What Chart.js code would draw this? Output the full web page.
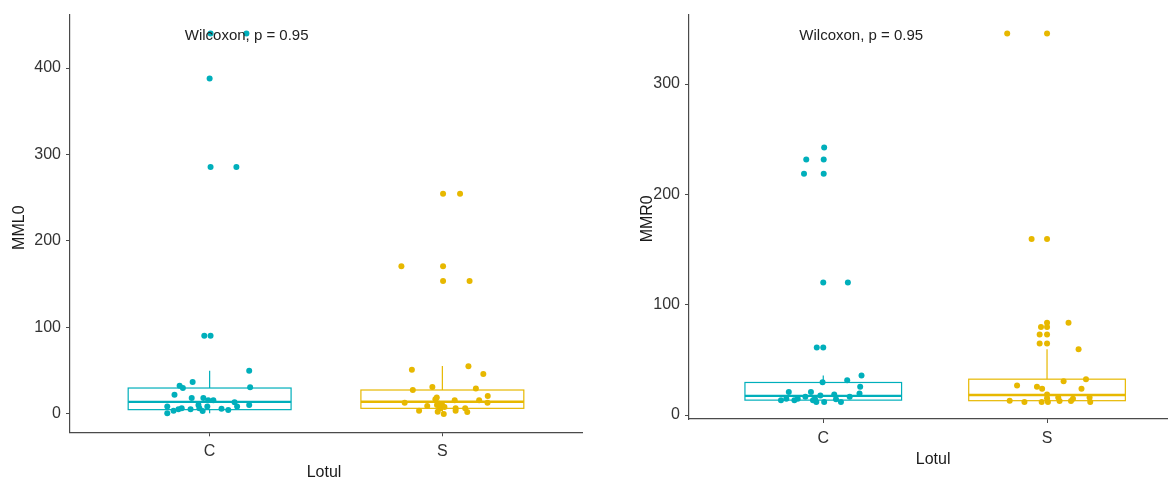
<!DOCTYPE html>
<html><head><meta charset="utf-8">
<script src="https://cdn.jsdelivr.net/npm/chart.js@4/dist/chart.umd.min.js"></script>
<style>
html,body{margin:0;padding:0;background:#fff;overflow:hidden;width:1168px;height:479px;}
.p{position:absolute;top:0;width:600px;height:479px;}
</style></head><body>
<div class="p" style="left:0"><canvas id="c1" width="600" height="479"></canvas></div>
<div class="p" style="left:600px"><canvas id="c2" width="600" height="479"></canvas></div>
<script>
// ---------- data ----------
const categories = ['C', 'S'];
const xTitle = 'Lotul';
const annotationText = 'Wilcoxon, p = 0.95';
const groupColors = ['#00AFBB', '#E7B800'];

// MML0 panel
const mml0Title = 'MML0';
const mml0Ticks = [0, 100, 200, 300, 400];
const mml0C = [440, 440, 388, 285.5, 285.5, 90.5, 90.5, 50, 31, 10.4, 37, 32.7, 30, 22.3, 18.5, 18.5, 16, 16, 13.5, 8.5, 10.4, 6.5, 8.5, 3.5, 5.4, 6.5, 5.4, 3.8, 8.5, 0.8, 6, 4.6];
const mml0CJitter = [0.004, 0.158, 0, 0.004, 0.115, -0.023, 0.004, 0.170, 0.174, 0.170, -0.073, -0.129, -0.115, -0.151, -0.077, -0.027, -0.006, 0.016, 0.107, 0.118, -0.048, -0.044, -0.010, -0.030, -0.082, -0.120, -0.134, -0.155, -0.182, -0.182, 0.051, 0.080];
const mml0S = [254.7, 254.7, 170.7, 170.7, 153.8, 153.8, 51.2, 55.1, 46.2, 27.7, 31.2, 29.3, 20.8, 13.1, 17, 18.9, 15.8, 15.8, 13.1, 9.2, 10.4, 10.4, 6.5, 3.8, 2.7, 0, 6.5, 3.8, 6.5, 2.3, 8, 12];
const mml0SJitter = [0.003, 0.076, -0.176, 0.003, 0.003, 0.117, -0.131, 0.112, 0.176, -0.127, -0.043, 0.144, 0.195, -0.162, -0.030, -0.024, 0.053, 0.158, 0.194, -0.065, -0.023, -0.001, -0.009, -0.100, -0.020, 0.006, 0.057, 0.057, 0.098, 0.107, 0.009, -0.017];
// box stats: [lower whisker, Q1, median, Q3, upper whisker]
const mml0BoxC = [0.8, 5, 14, 30, 50];
const mml0BoxS = [0, 6.5, 14.2, 27.7, 55.5];

// MMR0 panel
const mmr0Title = 'MMR0';
const mmr0Ticks = [0, 100, 200, 300];
const mmr0C = [242.4, 231.6, 231.6, 218.6, 218.6, 120, 120, 61.2, 61.2, 35.9, 31.6, 29.8, 25.6, 19.6, 16.5, 18.7, 20.8, 20.8, 16.5, 17.8, 14.7, 11.7, 11.7, 11.7, 14.2, 13.5, 14.7, 13.5, 14.7, 13.5];
const mmr0CJitter = [0.004, -0.076, 0.002, -0.086, 0.002, 0, 0.110, -0.029, 0, 0.171, 0.107, -0.003, 0.165, 0.162, 0.118, 0.049, -0.055, -0.154, -0.080, -0.013, -0.037, 0.004, -0.031, 0.079, 0.057, -0.129, -0.165, -0.189, -0.114, -0.046];
const mmr0S = [345.7, 345.7, 159.6, 159.6, 83.7, 83.7, 79.8, 79.8, 72.9, 72.9, 64.8, 64.8, 59.6, 26.8, 25.6, 23.8, 30.7, 32.5, 23.8, 12.9, 11.7, 11.7, 18.7, 15.1, 11.7, 15.9, 12.6, 12.6, 14.7, 15.9, 11.7];
const mmr0SJitter = [-0.178, 0, -0.069, 0, 0, 0.096, -0.027, 0, -0.033, 0, -0.033, 0, 0.141, -0.134, -0.045, -0.022, 0.074, 0.174, 0.154, -0.167, -0.101, -0.024, 0, 0, 0.004, 0.050, 0.056, 0.107, 0.116, 0.190, 0.193];
const mmr0BoxC = [11.7, 13.5, 17.4, 29.5, 35.9];
const mmr0BoxS = [11.7, 13, 18.1, 32.5, 59.6];

// ---------- drawing ----------
const FONT = '"Liberation Sans", Arial, sans-serif';
const AXIS_COLOR = '#4a4a4a';
const TICK_COLOR = '#333333';

function makePanel(canvasId, cfg) {
  const datasets = cfg.groups.map((g, gi) => ({
    type: 'scatter',
    data: g.values.map((v, k) => ({ x: gi + 1 + g.jitter[k], y: v })),
    backgroundColor: groupColors[gi],
    borderWidth: 0,
    pointRadius: 3,
    pointHoverRadius: 3
  }));

  const boxPlugin = {
    id: 'boxes',
    beforeDatasetsDraw(chart) {
      const ctx = chart.ctx, xs = chart.scales.x, ys = chart.scales.y;
      cfg.groups.forEach((g, gi) => {
        const [lo, q1, med, q3, hi] = g.box;
        const c = gi + 1;
        const x0 = xs.getPixelForValue(c - 0.35), x1 = xs.getPixelForValue(c + 0.35);
        const xc = xs.getPixelForValue(c);
        ctx.save();
        ctx.strokeStyle = groupColors[gi];
        ctx.lineWidth = 1.2;
        ctx.beginPath();
        ctx.moveTo(xc, ys.getPixelForValue(q3)); ctx.lineTo(xc, ys.getPixelForValue(hi));
        ctx.moveTo(xc, ys.getPixelForValue(q1)); ctx.lineTo(xc, ys.getPixelForValue(lo));
        ctx.stroke();
        const yq3 = ys.getPixelForValue(q3), yq1 = ys.getPixelForValue(q1);
        ctx.strokeRect(x0, yq3, x1 - x0, yq1 - yq3);
        ctx.lineWidth = 2.4;
        ctx.beginPath();
        const ym = ys.getPixelForValue(med);
        ctx.moveTo(x0, ym); ctx.lineTo(x1, ym);
        ctx.stroke();
        ctx.restore();
      });
    },
    afterDraw(chart) {
      const ctx = chart.ctx, a = chart.chartArea, xs = chart.scales.x, ys = chart.scales.y;
      ctx.save();
      ctx.fillStyle = '#1a1a1a';
      ctx.font = '16px ' + FONT;
      ctx.textAlign = 'center';
      ctx.textBaseline = 'middle';
      ctx.fillText(xTitle, (a.left + a.right) / 2 + cfg.xTitleDx, a.bottom + cfg.xTitleDy);
      ctx.save();
      ctx.translate(cfg.yTitleX, (a.top + a.bottom) / 2 + cfg.yTitleDy);
      ctx.rotate(-Math.PI / 2);
      ctx.fillText(cfg.yTitle, 0, 0);
      ctx.restore();
      ctx.font = '15px ' + FONT;
      ctx.textAlign = 'left';
      ctx.fillStyle = '#222';
      ctx.fillText(annotationText, xs.getPixelForValue(cfg.annot[0]), ys.getPixelForValue(cfg.annot[1]));
      ctx.restore();
    }
  };

  return new Chart(document.getElementById(canvasId), {
    type: 'scatter',
    data: { datasets },
    plugins: [boxPlugin],
    options: {
      responsive: false,
      animation: false,
      devicePixelRatio: 1,
      layout: { padding: { left: 0, top: cfg.areaTop, right: 600 - cfg.areaRight, bottom: 0 } },
      plugins: { legend: { display: false }, tooltip: { enabled: false } },
      scales: {
        x: {
          type: 'linear', min: 0.4, max: 2.6,
          afterBuildTicks: s => { s.ticks = categories.map((c, i) => ({ value: i + 1 })); },
          afterFit: s => { s.height = 479 - cfg.areaBottom; },
          ticks: { callback: (v, i) => categories[i], font: { size: 16, family: FONT }, color: TICK_COLOR, padding: 6, autoSkip: false, maxRotation: 0 },
          grid: { display: true, drawOnChartArea: false, drawTicks: true, tickLength: 4, color: AXIS_COLOR, lineWidth: 1 },
          border: { display: true, color: AXIS_COLOR, width: 1.2 }
        },
        y: {
          type: 'linear', min: cfg.yMin, max: cfg.yMax,
          afterBuildTicks: s => { s.ticks = cfg.yTicks.map(v => ({ value: v })); },
          afterFit: s => { s.width = cfg.areaLeft; },
          ticks: { font: { size: 16, family: FONT }, color: TICK_COLOR, padding: 5 },
          grid: { display: true, drawOnChartArea: false, drawTicks: true, tickLength: 4, color: AXIS_COLOR, lineWidth: 1 },
          border: { display: true, color: AXIS_COLOR, width: 1.2 }
        }
      }
    }
  });
}

makePanel('c1', {
  groups: [
    { values: mml0C, jitter: mml0CJitter, box: mml0BoxC },
    { values: mml0S, jitter: mml0SJitter, box: mml0BoxS }
  ],
  yTicks: mml0Ticks, yMin: -21.2, yMax: 461.3, yTitle: mml0Title,
  areaLeft: 70, areaRight: 582, areaTop: 15, areaBottom: 432.3,
  xTitleDx: -2, xTitleDy: 40.5, yTitleX: 20, yTitleDy: 4,
  annot: [0.893, 437]
});

makePanel('c2', {
  groups: [
    { values: mmr0C, jitter: mmr0CJitter, box: mmr0BoxC },
    { values: mmr0S, jitter: mmr0SJitter, box: mmr0BoxS }
  ],
  yTicks: mmr0Ticks, yMin: -3.6, yMax: 362.9, yTitle: mmr0Title,
  areaLeft: 89, areaRight: 581.3, areaTop: 13.3, areaBottom: 419,
  xTitleDx: -2, xTitleDy: 41, yTitleX: 47.5, yTitleDy: 2,
  annot: [0.893, 344]
});
</script>
</body></html>
